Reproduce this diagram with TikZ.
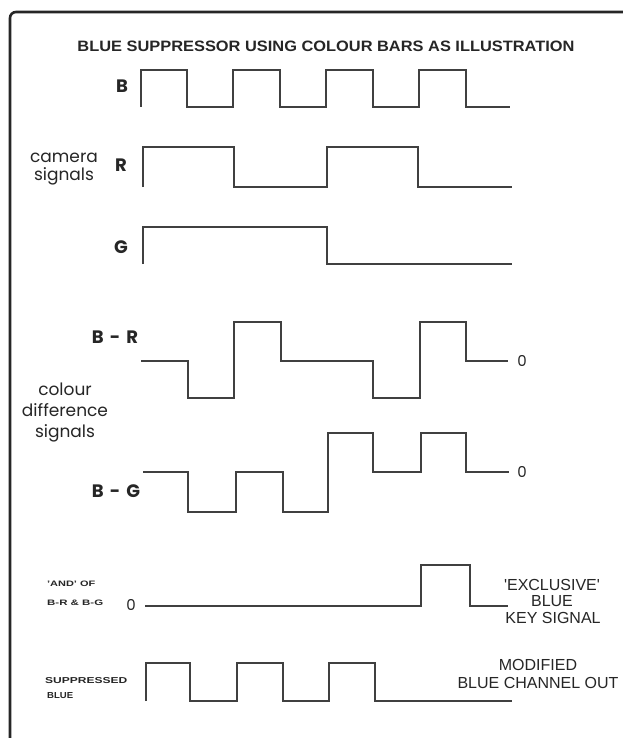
\documentclass[tikz,border=0pt]{standalone}
\usepackage{fontspec}
\setmainfont{Liberation Sans}
\newfontfamily\roundfont{Poppins}
\newfontfamily\handfont{Liberation Sans}
\begin{document}
\begin{tikzpicture}[x=1pt,y=-1pt,
  wave/.style={line width=1.9pt, draw=black!75, line join=miter},
  frameline/.style={line width=2.6pt, draw=black!85, rounded corners=6pt},
  chan/.style={font=\roundfont\bfseries\fontsize{18}{20}\selectfont, text=black!85, inner sep=0pt},
  grouplab/.style={font=\roundfont\fontsize{17}{24}\selectfont, text=black!85, align=center, inner sep=0pt},
  zerolab/.style={font=\roundfont\fontsize{15}{17}\selectfont, text=black!85, inner sep=0pt},
  tinylab/.style={font=\bfseries, text=black!85, inner sep=0pt, anchor=west},
  handlab/.style={font=\handfont\fontsize{16}{19}\selectfont, text=black!85, inner sep=0pt}
]
\useasboundingbox (0,0) rectangle (622,738);
\fill[white] (0,0) rectangle (622,738);

% frame
\draw[frameline] (660,12) -- (10,12) -- (10,760);

% title
\node[inner sep=0pt, text=black!85] (title) at (326,46)
  {\resizebox{497pt}{10.5pt}{\bfseries BLUE SUPPRESSOR USING COLOUR BARS AS ILLUSTRATION}};

% camera signals
\node[chan] (lB) at (122,86) {B};
\node[chan] (lR) at (121,165) {R};
\node[chan] (lG) at (121,247) {G};
\node[grouplab] (cam) at (64,169) {camera\\[-6pt]signals};

\draw[wave] (141,107) -- (141,70) -- (187,70) -- (187,107) -- (233,107) -- (233,70)
  -- (280,70) -- (280,107) -- (326,107) -- (326,70) -- (373,70) -- (373,107)
  -- (419,107) -- (419,70) -- (466,70) -- (466,107) -- (510,107);
\draw[wave] (143,187) -- (143,147) -- (234,147) -- (234,187) -- (327,187) -- (327,147)
  -- (418,147) -- (418,187) -- (512,187);
\draw[wave] (143,264) -- (143,227) -- (327,227) -- (327,264) -- (512,264);

% colour difference signals
\node[chan] (lBR) at (115,337) {B\,\,-\,\,R};
\node[chan] (lBG) at (116,491) {B\,\,-\,\,G};
\node[grouplab] (diff) at (65,413) {colour\\[-3pt]difference\\[-3pt]signals};
\node[zerolab] (zBR) at (522,361) {0};
\node[zerolab] (zBG) at (522,472) {0};

\draw[wave] (141,361) -- (188,361) -- (188,398) -- (234,398) -- (234,322) -- (281,322)
  -- (281,361) -- (373,361) -- (373,398) -- (420,398) -- (420,322) -- (466,322)
  -- (466,361) -- (508,361);
\draw[wave] (143,472) -- (188,472) -- (188,512) -- (236,512) -- (236,472) -- (283,472)
  -- (283,512) -- (328,512) -- (328,433) -- (373,433) -- (373,472) -- (421,472)
  -- (421,433) -- (466,433) -- (466,472) -- (509,472);

% AND signal
\node[tinylab] (and1) at (47,584) {\resizebox{48pt}{5.5pt}{'AND' OF}};
\node[tinylab] (and2) at (47,603) {\resizebox{56pt}{5.5pt}{B-R \& B-G}};
\node[zerolab] (zAND) at (131,605) {0};
\draw[wave] (145,606) -- (421,606) -- (421,565) -- (470,565) -- (470,606) -- (508,606);
\node[handlab] (ex1) at (552,585) {'EXCLUSIVE'};
\node[handlab] (ex2) at (552,601) {BLUE};
\node[handlab] (ex3) at (553,618) {KEY SIGNAL};

% suppressed blue
\node[tinylab] (sup1) at (45,681) {\resizebox{82pt}{6pt}{SUPPRESSED}};
\node[tinylab] (sup2) at (47,696) {\resizebox{26pt}{6pt}{BLUE}};
\draw[wave] (146,701) -- (146,663) -- (190,663) -- (190,701) -- (237,701) -- (237,663)
  -- (283,663) -- (283,701) -- (329,701) -- (329,663) -- (375,663) -- (375,701) -- (512,701);
\node[handlab] (mod1) at (538,665) {MODIFIED};
\node[handlab] (mod2) at (538,683) {BLUE CHANNEL OUT};
\end{tikzpicture}
\end{document}
